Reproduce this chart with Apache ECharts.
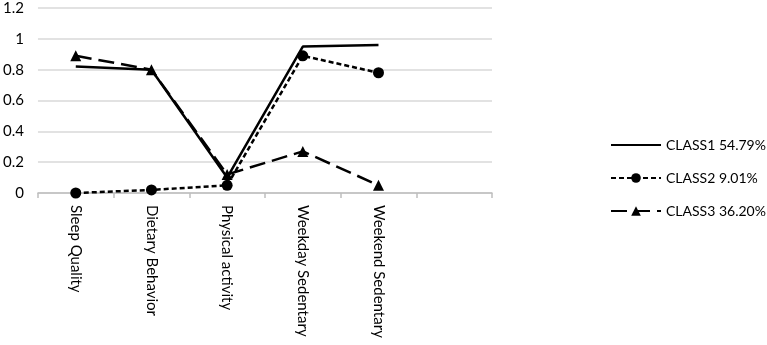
<!DOCTYPE html>
<html><head><meta charset="utf-8">
<script src="https://cdn.jsdelivr.net/npm/echarts@6/dist/echarts.min.js"></script>
<style>html,body{margin:0;padding:0;background:#fff}#c{width:767px;height:345px}</style>
</head><body><div id="c"></div>
<script>
const categories = ['Sleep Quality', 'Dietary Behavior', 'Physical activity', 'Weekday Sedentary', 'Weekend Sedentary', ''];
const class1 = [0.82, 0.80, 0.10, 0.95, 0.96];
const class2 = [0.00, 0.02, 0.05, 0.89, 0.78];
const class3 = [0.89, 0.80, 0.12, 0.27, 0.05];
const seriesNames = ['CLASS1 54.79%', 'CLASS2 9.01%', 'CLASS3 36.20%'];
const yTicks = [0, 0.2, 0.4, 0.6, 0.8, 1, 1.2];

const font = 'Lato, "Open Sans", sans-serif';
const chart = echarts.init(document.getElementById('c'));
chart.setOption({
  animation: false,
  grid: {left: 37, right: 275, top: 8, bottom: 152},
  legend: {
    orient: 'vertical', left: 605, top: 133, itemWidth: 50, itemHeight: 12, itemGap: 19,
    textStyle: {fontFamily: font, fontSize: 14, color: '#000'},
    data: [
      {name: seriesNames[0], itemStyle: {opacity: 0}},
      {name: seriesNames[1]},
      {name: seriesNames[2]}
    ]
  },
  xAxis: {
    type: 'category', data: categories, boundaryGap: true,
    axisLine: {lineStyle: {color: '#bfbfbf', width: 1.5}},
    axisTick: {show: true, length: 5, lineStyle: {color: '#bfbfbf', width: 1.5}},
    axisLabel: {rotate: -90, interval: 0, fontFamily: font, fontSize: 15, color: '#000', margin: 12}
  },
  yAxis: {
    type: 'value', min: 0, max: 1.2, interval: 0.2,
    axisLine: {show: false}, axisTick: {show: false},
    splitLine: {lineStyle: {color: '#d9d9d9', width: 1.5}},
    axisLabel: {fontFamily: font, fontSize: 15, color: '#000', margin: 14,
      formatter: v => { const t = yTicks.find(x => Math.abs(x - v) < 1e-9); return String(+(t ?? v).toFixed(1)); }}
  },
  series: [
    {name: seriesNames[0], type: 'line', data: class1, symbol: 'none',
     lineStyle: {color: '#000', width: 2.5}, itemStyle: {color: '#000'}},
    {name: seriesNames[1], type: 'line', data: class2, symbol: 'circle', symbolSize: 11,
     lineStyle: {color: '#000', width: 2.5, type: [5, 3]}, itemStyle: {color: '#000'}},
    {name: seriesNames[2], type: 'line', data: class3, symbol: 'triangle', symbolSize: 11,
     lineStyle: {color: '#000', width: 2.5, type: [16, 7]}, itemStyle: {color: '#000'}}
  ]
});
</script></body></html>
